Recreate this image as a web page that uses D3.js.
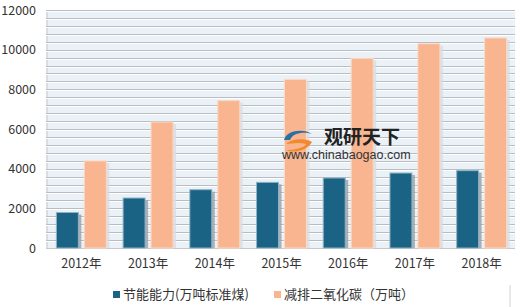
<!DOCTYPE html>
<html>
<head>
<meta charset="utf-8">
<script src="https://cdn.jsdelivr.net/npm/d3@7"></script>
<style>
  body { margin: 0; background: #fff; }
  text { font-family: "Noto Sans CJK SC", "Noto Sans", sans-serif; fill: #333; }
</style>
</head>
<body>
<div id="chart"></div>
<script>
const years = ['2012年', '2013年', '2014年', '2015年', '2016年', '2017年', '2018年'];
const seriesNames = ['节能能力(万吨标准煤)', '减排二氧化碳（万吨）'];
const energySaving = [1790, 2520, 2940, 3310, 3530, 3780, 3900];
const co2Reduction = [4390, 6350, 7430, 8500, 9560, 10300, 10590];
const yTicks = [0, 2000, 4000, 6000, 8000, 10000, 12000];
const colors = ['#1b6385', '#f8b590'];

const width = 520, height = 307;
const margin = { top: 10, right: 5, bottom: 59, left: 48 };

const svg = d3.select('#chart').append('svg')
  .attr('width', width)
  .attr('height', height);

const x = d3.scaleBand()
  .domain(years)
  .range([margin.left, width - margin.right])
  .padding(0);

const xInner = d3.scaleBand()
  .domain([0, 1])
  .range([0, x.bandwidth()])
  .paddingInner(0.214)
  .paddingOuter(0.3);

const y = d3.scaleLinear()
  .domain([0, 12000])
  .range([height - margin.bottom, margin.top]);

// plot background
svg.append('rect')
  .attr('x', margin.left)
  .attr('y', margin.top)
  .attr('width', width - margin.left - margin.right)
  .attr('height', y(0) - margin.top)
  .attr('fill', '#eaf1f7');

// left wall shade
svg.append('rect')
  .attr('x', margin.left - 2)
  .attr('y', margin.top)
  .attr('width', 2)
  .attr('height', y(0) - margin.top)
  .attr('fill', '#d9dde2');

// minor gridlines every 400
const grid = d3.range(400, 12001, 400);
svg.append('g').selectAll('line.g1')
  .data(grid)
  .enter().append('line')
  .attr('x1', margin.left - 2)
  .attr('x2', width - margin.right)
  .attr('y1', d => Math.round(y(d)) + 0.5)
  .attr('y2', d => Math.round(y(d)) + 0.5)
  .attr('stroke', '#b9bcc0')
  .attr('stroke-width', 1);
svg.append('g').selectAll('line.g2')
  .data(grid)
  .enter().append('line')
  .attr('x1', margin.left - 2)
  .attr('x2', width - margin.right)
  .attr('y1', d => Math.round(y(d)) + 1.5)
  .attr('y2', d => Math.round(y(d)) + 1.5)
  .attr('stroke', '#ffffff')
  .attr('stroke-width', 1);

// floor
svg.append('line')
  .attr('x1', margin.left - 2)
  .attr('x2', width - margin.right)
  .attr('y1', y(0) + 0.5)
  .attr('y2', y(0) + 0.5)
  .attr('stroke', '#c8c8c8');

const data = years.map((yr, i) => ({ year: yr, values: [energySaving[i], co2Reduction[i]] }));

const groups = svg.append('g').selectAll('g')
  .data(data)
  .enter().append('g')
  .attr('transform', d => `translate(${x(d.year)},0)`);

// shadows
groups.selectAll('rect.shadow')
  .data(d => d.values.map((v, i) => ({ v, i })))
  .enter().append('rect')
  .attr('class', 'shadow')
  .attr('x', d => xInner(d.i) + 3)
  .attr('y', d => y(d.v) + 2)
  .attr('width', xInner.bandwidth())
  .attr('height', d => y(0) - y(d.v) - 2)
  .attr('fill', d => d.i === 0 ? '#9aa0a6' : '#d8dde2')
  .attr('opacity', 0.8);

groups.selectAll('rect.bar')
  .data(d => d.values.map((v, i) => ({ v, i })))
  .enter().append('rect')
  .attr('class', 'bar')
  .attr('x', d => xInner(d.i))
  .attr('y', d => y(d.v))
  .attr('width', xInner.bandwidth())
  .attr('height', d => y(0) - y(d.v))
  .attr('fill', d => colors[d.i])
  .attr('stroke', d => d.i === 0 ? '#8fb3c6' : '#fbd9c5')
  .attr('stroke-width', 1);

// y axis
const yAxis = d3.axisLeft(y).tickValues(yTicks).tickFormat(d3.format('d')).tickSize(0).tickPadding(0);
svg.append('g')
  .attr('transform', `translate(36,0)`)
  .call(yAxis)
  .call(g => g.select('.domain').remove())
  .selectAll('text')
  .attr('font-size', 12.5)
  .style('fill', '#333');

// x axis
const xAxis = d3.axisBottom(x).tickSize(0).tickPadding(0);
svg.append('g')
  .attr('transform', `translate(0,${y(0) + 11})`)
  .call(xAxis)
  .call(g => g.select('.domain').remove())
  .selectAll('text')
  .attr('font-size', 12.5)
  .style('fill', '#333');

// watermark
const wm = svg.append('g').attr('transform', 'translate(282,126)');
wm.append('path')
  .attr('d', 'M2,14 C4,4 22,2 30,8 C22,5 10,7 8,14 Z')
  .attr('fill', '#2a6fa0');
wm.append('path')
  .attr('d', 'M4,18 C10,12 24,12 30,16 C26,24 12,28 4,24 C12,24 22,22 24,18 C16,16 8,18 4,18 Z')
  .attr('fill', '#f08a2c');
wm.append('text')
  .attr('x', 42).attr('y', 18)
  .attr('font-size', 19).attr('font-weight', 'bold')
  .style('fill', '#222')
  .text('观研天下');
wm.append('text')
  .attr('x', 0).attr('y', 33)
  .attr('font-size', 12.5)
  .style('fill', '#333')
  .style('font-family', 'Arial, "Liberation Sans", sans-serif')
  .text('www.chinabaogao.com');

// legend
const legend = svg.append('g');
legend.append('rect')
  .attr('x', 91).attr('y', 285)
  .attr('width', 420).attr('height', 24)
  .attr('fill', '#e8e8e8');
legend.append('rect')
  .attr('x', 89).attr('y', 283)
  .attr('width', 420).attr('height', 24)
  .attr('fill', '#fff');
const legendX = [113, 274];
seriesNames.forEach((name, i) => {
  legend.append('rect')
    .attr('x', legendX[i]).attr('y', 291)
    .attr('width', 7).attr('height', 7)
    .attr('fill', colors[i]);
  legend.append('text')
    .attr('x', legendX[i] + 10).attr('y', 299)
    .attr('font-size', 13)
    .style('fill', '#333')
    .text(name);
});
</script>
</body>
</html>
